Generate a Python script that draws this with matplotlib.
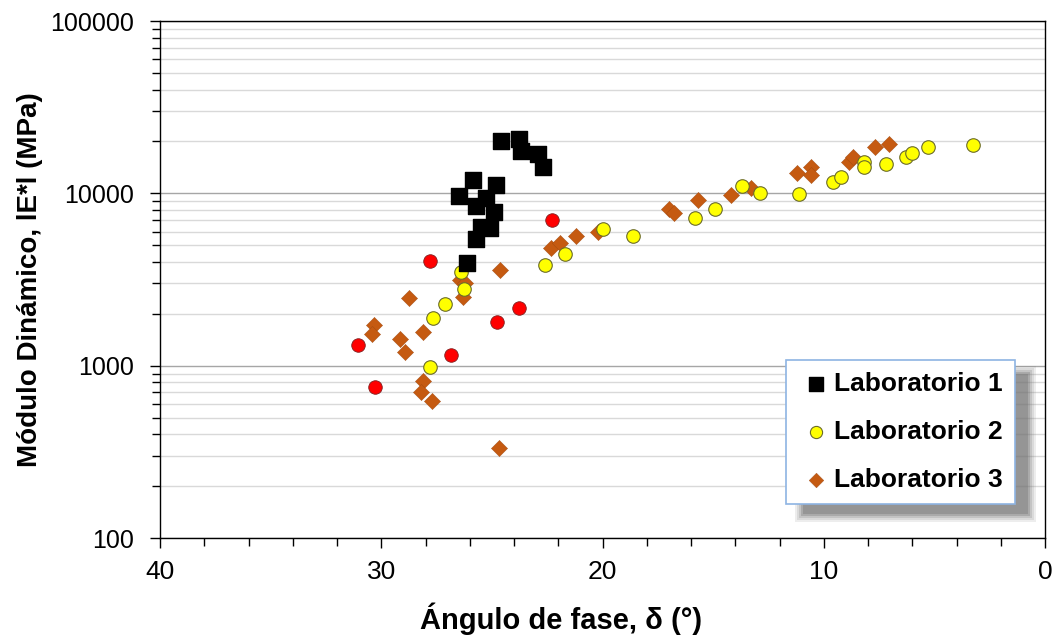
import numpy as np
import matplotlib.pyplot as plt
from matplotlib.patches import Rectangle
from matplotlib.ticker import LogLocator, MultipleLocator, NullFormatter, FixedLocator

# Laboratorio 1 (fase en grados, modulo en MPa)
lab1_phase = [24.60, 23.79, 23.67, 22.92, 22.70, 25.86, 26.50, 24.80, 25.25,
              25.70, 24.92, 25.48, 25.10, 25.70, 26.13]
lab1_mod = [20040, 20670, 17680, 16920, 14280, 11950, 9610, 11180, 9360,
            8480, 7760, 6350, 6270, 5410, 3960]

# Laboratorio 2
lab2_phase = [26.41, 26.28, 27.12, 27.66, 27.80, 22.59, 21.69, 19.99, 18.61,
              15.81, 14.91, 13.69, 12.87, 11.14, 9.60, 9.21, 8.16, 8.17,
              7.19, 6.29, 5.99, 5.28, 3.26]
lab2_mod = [3483, 2775, 2270, 1899, 986, 3838, 4446, 6234, 5680,
            7223, 8079, 11075, 10005, 9913, 11636, 12440, 15260, 14280,
            14740, 16320, 17070, 18570, 19080]

# Laboratorio 3
lab3_phase = [24.62, 26.43, 26.21, 26.31, 28.74, 30.33, 30.41, 29.13, 28.13,
              28.93, 28.11, 28.22, 27.69, 24.70, 22.31, 21.91, 21.20, 20.21,
              16.98, 16.75, 15.68, 14.19, 13.29, 11.22, 10.58, 10.58, 8.85,
              8.67, 7.67, 7.04]
lab3_mod = [3592, 3154, 3026, 2493, 2480, 1722, 1517, 1432, 1562,
            1200, 812, 703, 620, 334, 4786, 5116, 5633, 5966,
            8079, 7659, 9114, 9781, 10780, 13070, 14160, 12780, 15260,
            16320, 18500, 19330]

# serie sin leyenda (puntos rojos)
extra_phase = [27.81, 31.07, 30.29, 26.83, 24.77, 23.76, 22.27]
extra_mod = [4050, 1313, 755, 1153, 1800, 2161, 7000]

plt.rcParams['font.family'] = ['Liberation Sans', 'DejaVu Sans']

fig = plt.figure(figsize=(10.58, 6.43), dpi=100)
ax = fig.add_axes([160/1058, 1 - 538/643, 885/1058, 517/643])

ax.set_yscale('log')
ax.set_ylim(100, 100000)
ax.set_xlim(40, 0)

ax.yaxis.set_major_locator(FixedLocator([100, 1000, 10000, 100000]))
ax.yaxis.set_major_formatter(plt.FuncFormatter(lambda v, p: '%d' % v))
ax.yaxis.set_minor_locator(LogLocator(base=10, subs=np.arange(2, 10)))
ax.yaxis.set_minor_formatter(NullFormatter())
ax.xaxis.set_major_locator(MultipleLocator(10))
ax.xaxis.set_minor_locator(MultipleLocator(2))

ax.grid(True, which='major', axis='y', color='#a6a6a6', lw=1.0)
ax.grid(True, which='minor', axis='y', color='#d9d9d9', lw=1.0)
ax.set_axisbelow(True)

ax.tick_params(axis='both', which='major', direction='out', length=7, width=1, labelsize=19)
ax.tick_params(axis='y', which='major', labelsize=18, pad=12)
ax.tick_params(axis='both', which='minor', direction='out', length=6, width=1)
ax.tick_params(axis='x', which='major', pad=9)
for s in ax.spines.values():
    s.set_color('black')
    s.set_linewidth(1.0)

ax.scatter(extra_phase, extra_mod, marker='o', s=95, facecolor='#ff0000',
           edgecolor='#7f1f1f', linewidth=0.6, zorder=3)
ax.scatter(lab3_phase, lab3_mod, marker='D', s=68, facecolor='#c55a11',
           edgecolor='#a04a10', linewidth=0.3, zorder=3, label='Laboratorio 3')
ax.scatter(lab2_phase, lab2_mod, marker='o', s=95, facecolor='#ffff00',
           edgecolor='#6b6b2a', linewidth=0.8, zorder=3, label='Laboratorio 2')
ax.scatter(lab1_phase, lab1_mod, marker='s', s=125, facecolor='black',
           edgecolor='black', zorder=4, label='Laboratorio 1')

ax.set_xlabel('Ángulo de fase, δ (°)', fontsize=21, fontweight='bold')
ax.xaxis.set_label_coords(0.4535, -0.124)
ax.set_ylabel('Módulo Dinámico, lE*l (MPa)', fontsize=20, fontweight='bold')
ax.yaxis.set_label_coords(-0.132, 0.5)

h, l = ax.get_legend_handles_labels()
leg = ax.legend(h[::-1], l[::-1], loc='upper left', bbox_to_anchor=(0.7073, 0.3443),
                borderaxespad=0, fancybox=False, framealpha=1, edgecolor='#8eb4e3',
                prop={'weight': 'bold', 'size': 19}, markerscale=0.9,
                handletextpad=0.05, handlelength=1.3, labelspacing=0.9,
                borderpad=0.47)
leg.get_frame().set_linewidth(1.2)
leg.set_zorder(6)

# sombra difusa detras de la leyenda
fig.canvas.draw()
bb = leg.get_window_extent()
inv = ax.transAxes.inverted()
for grow, a in [(6, 0.12), (4, 0.15), (2, 0.2), (0, 0.3), (-2, 0.35)]:
    x0, y0 = inv.transform((bb.x0 + 15 - grow, bb.y0 - 12 - grow))
    x1, y1 = inv.transform((bb.x1 + 15 + grow, bb.y1 - 12 + grow))
    ax.add_patch(Rectangle((x0, y0), x1 - x0, y1 - y0, transform=ax.transAxes,
                           facecolor='#6f6f6f', edgecolor='none', alpha=a,
                           zorder=5, clip_on=False))

fig.savefig('out.png', dpi=100)
